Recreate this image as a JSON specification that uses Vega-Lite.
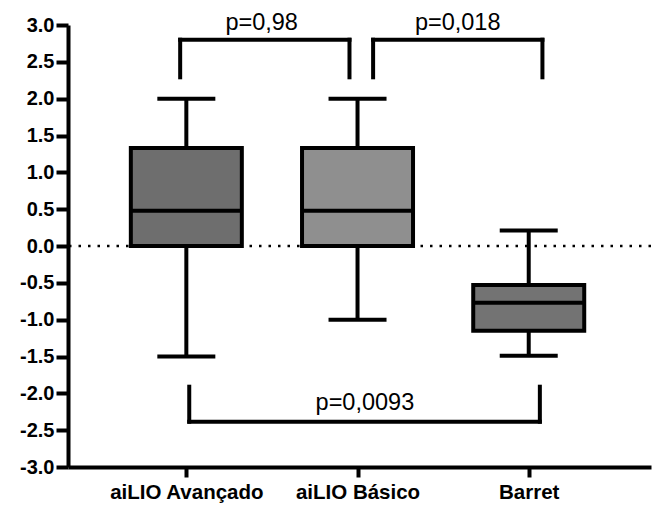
{
  "$schema": "https://vega.github.io/schema/vega-lite/v6.json",
  "width": 583,
  "height": 442,
  "autosize": {"type": "none"},
  "padding": {"left": 68, "top": 25, "right": 8, "bottom": 40},
  "background": "white",
  "config": {
    "view": {"stroke": null},
    "font": "Liberation Sans",
    "axis": {"grid": false, "domainColor": "black", "domainWidth": 4, "tickColor": "black", "tickWidth": 4, "labelColor": "black", "labelFont": "Liberation Sans", "labelFontWeight": "bold", "title": null, "labelOverlap": false},
    "axisX": {"labelFontSize": 20.5, "tickSize": 10, "labelPadding": 5},
    "axisY": {"labelFontSize": 20, "tickSize": 12, "labelPadding": 2}
  },
  "datasets": {
    "boxes": [
      {"grupo": "aiLIO Avançado", "pos": 0, "lower": -1.5, "q1": 0.0, "median": 0.48, "q3": 1.33, "upper": 2.0},
      {"grupo": "aiLIO Básico", "pos": 1, "lower": -1.0, "q1": 0.0, "median": 0.48, "q3": 1.33, "upper": 2.0},
      {"grupo": "Barret", "pos": 2, "lower": -1.49, "q1": -1.15, "median": -0.77, "q3": -0.53, "upper": 0.21}
    ],
    "brackets": [
      {"x": -0.036, "x2": -0.036, "y": 2.29, "y2": 2.8},
      {"x": -0.036, "x2": 0.953, "y": 2.8, "y2": 2.8},
      {"x": 0.953, "x2": 0.953, "y": 2.8, "y2": 2.29},
      {"x": 1.091, "x2": 1.091, "y": 2.29, "y2": 2.8},
      {"x": 1.091, "x2": 2.08, "y": 2.8, "y2": 2.8},
      {"x": 2.08, "x2": 2.08, "y": 2.8, "y2": 2.29},
      {"x": 0.017, "x2": 0.017, "y": -1.91, "y2": -2.385},
      {"x": 0.017, "x2": 2.065, "y": -2.385, "y2": -2.385},
      {"x": 2.065, "x2": 2.065, "y": -2.385, "y2": -1.91}
    ],
    "pvalues": [
      {"label": "p=0,98", "x": 0.44, "y": 2.93},
      {"label": "p=0,018", "x": 1.585, "y": 2.93},
      {"label": "p=0,0093", "x": 1.043, "y": -2.226}
    ]
  },
  "layer": [
    {
      "data": {"name": "boxes"},
      "mark": {"type": "rule", "strokeWidth": 4, "color": "black"},
      "encoding": {
        "x": {"field": "pos", "type": "quantitative", "scale": {"domain": [-0.662, 2.685], "nice": false, "zero": false}, "axis": {"values": [0, 1, 2], "labelExpr": "datum.value == 0 ? 'aiLIO Avançado' : datum.value == 1 ? 'aiLIO Básico' : 'Barret'"}},
        "y": {"field": "lower", "type": "quantitative", "scale": {"domain": [-3, 3], "nice": false}, "axis": {"values": [-3, -2.5, -2, -1.5, -1, -0.5, 0, 0.5, 1, 1.5, 2, 2.5, 3], "labelExpr": "(datum.value < 0 ? '-' : '') + format(abs(datum.value), '.1f')"}},
        "y2": {"field": "upper"}
      }
    },
    {
      "data": {"name": "boxes"},
      "mark": {"type": "tick", "orient": "horizontal", "size": 58, "thickness": 4, "color": "black", "opacity": 1},
      "encoding": {
        "x": {"field": "pos", "type": "quantitative", "axis": {"values": [0, 1, 2], "labelExpr": "datum.value == 0 ? 'aiLIO Avançado' : datum.value == 1 ? 'aiLIO Básico' : 'Barret'"}},
        "y": {"field": "upper", "type": "quantitative", "axis": {"values": [-3, -2.5, -2, -1.5, -1, -0.5, 0, 0.5, 1, 1.5, 2, 2.5, 3], "labelExpr": "(datum.value < 0 ? '-' : '') + format(abs(datum.value), '.1f')"}}
      }
    },
    {
      "data": {"name": "boxes"},
      "mark": {"type": "tick", "orient": "horizontal", "size": 58, "thickness": 4, "color": "black", "opacity": 1},
      "encoding": {
        "x": {"field": "pos", "type": "quantitative", "axis": {"values": [0, 1, 2], "labelExpr": "datum.value == 0 ? 'aiLIO Avançado' : datum.value == 1 ? 'aiLIO Básico' : 'Barret'"}},
        "y": {"field": "lower", "type": "quantitative", "axis": {"values": [-3, -2.5, -2, -1.5, -1, -0.5, 0, 0.5, 1, 1.5, 2, 2.5, 3], "labelExpr": "(datum.value < 0 ? '-' : '') + format(abs(datum.value), '.1f')"}}
      }
    },
    {
      "data": {"name": "boxes"},
      "mark": {"type": "bar", "orient": "vertical", "size": 111, "stroke": "black", "strokeWidth": 4},
      "encoding": {
        "x": {"field": "pos", "type": "quantitative", "axis": {"values": [0, 1, 2], "labelExpr": "datum.value == 0 ? 'aiLIO Avançado' : datum.value == 1 ? 'aiLIO Básico' : 'Barret'"}},
        "y": {"field": "q1", "type": "quantitative", "axis": {"values": [-3, -2.5, -2, -1.5, -1, -0.5, 0, 0.5, 1, 1.5, 2, 2.5, 3], "labelExpr": "(datum.value < 0 ? '-' : '') + format(abs(datum.value), '.1f')"}},
        "y2": {"field": "q3"},
        "fill": {"field": "grupo", "type": "nominal", "scale": {"domain": ["aiLIO Avançado", "aiLIO Básico", "Barret"], "range": ["#6e6e6e", "#8f8f8f", "#737373"]}, "legend": null}
      }
    },
    {
      "data": {"name": "boxes"},
      "mark": {"type": "tick", "orient": "horizontal", "size": 111, "thickness": 4, "color": "black", "opacity": 1},
      "encoding": {
        "x": {"field": "pos", "type": "quantitative", "axis": {"values": [0, 1, 2], "labelExpr": "datum.value == 0 ? 'aiLIO Avançado' : datum.value == 1 ? 'aiLIO Básico' : 'Barret'"}},
        "y": {"field": "median", "type": "quantitative", "axis": {"values": [-3, -2.5, -2, -1.5, -1, -0.5, 0, 0.5, 1, 1.5, 2, 2.5, 3], "labelExpr": "(datum.value < 0 ? '-' : '') + format(abs(datum.value), '.1f')"}}
      }
    },
    {
      "data": {"values": [{"zero": 0}]},
      "mark": {"type": "rule", "strokeWidth": 2.5, "strokeDash": [2.5, 7], "color": "black"},
      "encoding": {
        "y": {"field": "zero", "type": "quantitative", "axis": {"values": [-3, -2.5, -2, -1.5, -1, -0.5, 0, 0.5, 1, 1.5, 2, 2.5, 3], "labelExpr": "(datum.value < 0 ? '-' : '') + format(abs(datum.value), '.1f')"}}
      }
    },
    {
      "data": {"name": "brackets"},
      "mark": {"type": "rule", "strokeWidth": 4, "color": "black", "strokeCap": "square"},
      "encoding": {
        "x": {"field": "x", "type": "quantitative", "axis": {"values": [0, 1, 2], "labelExpr": "datum.value == 0 ? 'aiLIO Avançado' : datum.value == 1 ? 'aiLIO Básico' : 'Barret'"}},
        "x2": {"field": "x2"},
        "y": {"field": "y", "type": "quantitative", "axis": {"values": [-3, -2.5, -2, -1.5, -1, -0.5, 0, 0.5, 1, 1.5, 2, 2.5, 3], "labelExpr": "(datum.value < 0 ? '-' : '') + format(abs(datum.value), '.1f')"}},
        "y2": {"field": "y2"}
      }
    },
    {
      "data": {"name": "pvalues"},
      "mark": {"type": "text", "fontSize": 23.5, "font": "Liberation Sans", "color": "black", "align": "center", "baseline": "alphabetic"},
      "encoding": {
        "x": {"field": "x", "type": "quantitative", "axis": {"values": [0, 1, 2], "labelExpr": "datum.value == 0 ? 'aiLIO Avançado' : datum.value == 1 ? 'aiLIO Básico' : 'Barret'"}},
        "y": {"field": "y", "type": "quantitative", "axis": {"values": [-3, -2.5, -2, -1.5, -1, -0.5, 0, 0.5, 1, 1.5, 2, 2.5, 3], "labelExpr": "(datum.value < 0 ? '-' : '') + format(abs(datum.value), '.1f')"}},
        "text": {"field": "label"}
      }
    }
  ]
}
